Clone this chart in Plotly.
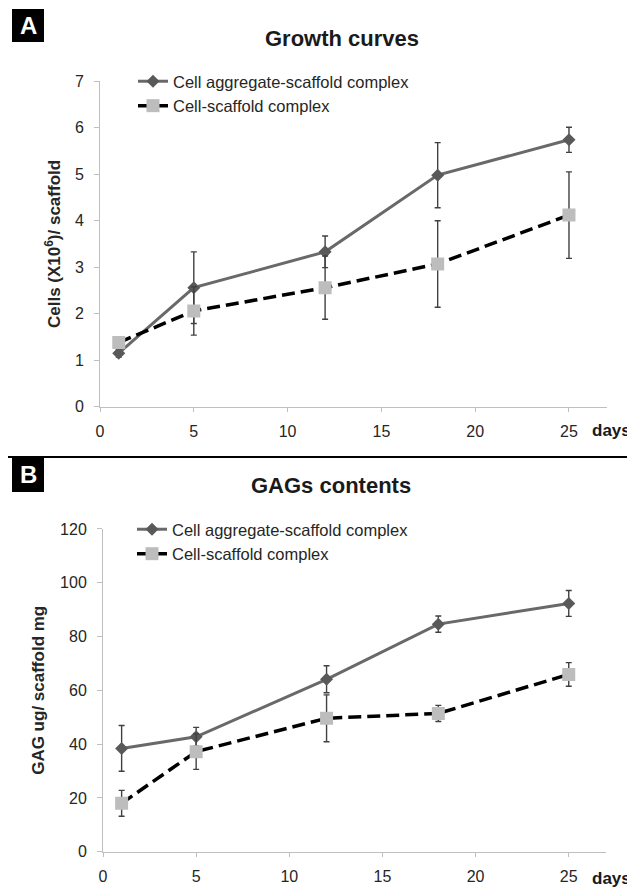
import plotly.graph_objects as go

days = [1, 5, 12, 18, 25]
series_names = ["Cell aggregate-scaffold complex", "Cell-scaffold complex"]

# Panel A: growth curves (cells x10^6 per scaffold)
cells_agg = [1.15, 2.56, 3.33, 4.98, 5.74]
cells_agg_err = [0.08, 0.77, 0.34, 0.70, 0.27]
cells_sc = [1.38, 2.06, 2.56, 3.07, 4.12]
cells_sc_err = [0.08, 0.52, 0.68, 0.93, 0.93]

# Panel B: GAG contents (ug / scaffold mg)
gag_agg = [38.4, 42.7, 64.1, 84.6, 92.3]
gag_agg_err = [8.5, 3.5, 5.0, 3.0, 4.8]
gag_sc = [18.0, 37.2, 49.6, 51.4, 65.9]
gag_sc_err = [4.8, 6.6, 8.7, 3.0, 4.4]

# page body has an 8px margin: size the figure so it fits the 635x889 window
OFF = 8
W, H = 635 - OFF, 889 - OFF
FONT = "Liberation Sans, Arial, sans-serif"
AXC = "#bfbfbf"
TXT = "#262626"


def px(x):
    return (x - OFF) / W


def py(y):
    return 1 - (y - OFF) / H


fig = go.Figure()


def add_pair(xa, ya, legend, y1, e1, y2, e2):
    fig.add_trace(go.Scatter(
        x=days, y=y1, name=series_names[0], xaxis=xa, yaxis=ya, legend=legend,
        mode="lines+markers",
        line=dict(color="#696969", width=3),
        marker=dict(symbol="diamond", size=10, color="#595959"),
        error_y=dict(type="data", array=e1, color="#404040", thickness=1.4, width=3),
    ))
    fig.add_trace(go.Scatter(
        x=days, y=y2, name=series_names[1], xaxis=xa, yaxis=ya, legend=legend,
        mode="lines+markers",
        line=dict(color="#000000", width=3.5, dash="13px,6px"),
        marker=dict(symbol="square", size=13, color="#bdbdbd"),
        error_y=dict(type="data", array=e2, color="#404040", thickness=1.4, width=3),
    ))


add_pair("x", "y", "legend", cells_agg, cells_agg_err, cells_sc, cells_sc_err)
add_pair("x2", "y2", "legend2", gag_agg, gag_agg_err, gag_sc, gag_sc_err)

xcommon = dict(range=[0, 27], tickvals=[0, 5, 10, 15, 20, 25], showline=True,
               linecolor=AXC, linewidth=1, ticks="outside", ticklen=4, tickcolor=AXC,
               showgrid=False, zeroline=False, automargin=False, ticklabelstandoff=6,
               tickfont=dict(family=FONT, size=16, color=TXT))
ycommon = dict(showline=True, linecolor=AXC, linewidth=1, ticks="outside", ticklen=5,
               tickcolor=AXC, showgrid=False, zeroline=False, automargin=False,
               ticklabelstandoff=7,
               tickfont=dict(family=FONT, size=16, color=TXT))

fig.update_layout(
    width=W, height=H, autosize=False,
    margin=dict(l=0, r=0, t=0, b=0, pad=0, autoexpand=False),
    paper_bgcolor="white", plot_bgcolor="white",
    xaxis=dict(domain=[px(100), px(606.5)], anchor="y", **xcommon),
    yaxis=dict(domain=[py(406.7), py(81.2)], anchor="x", range=[0, 7], dtick=1,
               title=dict(text="<b>Cells (X10<sup>6</sup>)/ scaffold</b>", standoff=9,
                          font=dict(family=FONT, size=17, color=TXT)),
               **ycommon),
    xaxis2=dict(domain=[px(103), px(606)], anchor="y2", **xcommon),
    yaxis2=dict(domain=[py(851.7), py(528.9)], anchor="x2", range=[0, 120], dtick=20,
                title=dict(text="<b>GAG ug/ scaffold mg</b>", standoff=11,
                           font=dict(family=FONT, size=17, color=TXT)),
                **ycommon),
    legend=dict(x=px(133), y=py(64), xanchor="left", yanchor="top",
                bgcolor="rgba(0,0,0,0)", font=dict(family=FONT, size=16.5, color=TXT),
                itemwidth=30, tracegroupgap=0),
    legend2=dict(x=px(132), y=py(512), xanchor="left", yanchor="top",
                 bgcolor="rgba(0,0,0,0)", font=dict(family=FONT, size=16.5, color=TXT),
                 itemwidth=30, tracegroupgap=0),
    showlegend=True,
)

# Panel letters, titles, "days" labels, separator
for letter, y0, y1 in [("A", 9, 42), ("B", 457, 492)]:
    fig.add_shape(type="rect", xref="paper", yref="paper", layer="below",
                  x0=px(12), x1=px(44), y0=py(y1), y1=py(y0),
                  fillcolor="black", line=dict(width=0))
    fig.add_annotation(text=f"<b>{letter}</b>", xref="paper", yref="paper",
                       x=px(28), y=py((y0 + y1) / 2), xanchor="center", yanchor="middle",
                       showarrow=False, font=dict(family=FONT, size=24, color="white"))


def label(text, x, y, size):
    fig.add_annotation(text=text, xref="paper", yref="paper", x=px(x), y=py(y),
                       xanchor="center", yanchor="middle", showarrow=False,
                       font=dict(family=FONT, size=size, color="#1a1a1a"))


label("<b>Growth curves</b>", 342, 39, 22)
label("<b>GAGs contents</b>", 331, 485, 22)
label("<b>days</b>", 611, 431, 17)
label("<b>days</b>", 611, 878, 17)

fig.add_shape(type="line", xref="paper", yref="paper",
              x0=0, x1=1, y0=py(457), y1=py(457),
              line=dict(color="black", width=2))

fig.write_html("out.html")
